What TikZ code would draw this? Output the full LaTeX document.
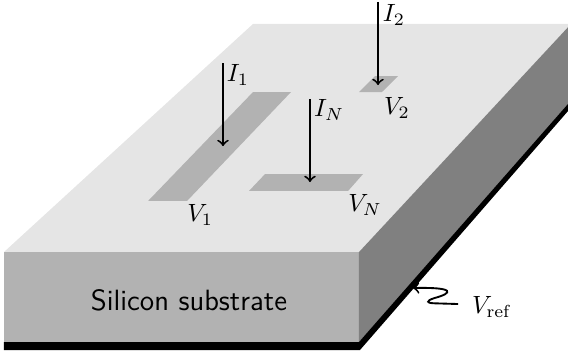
\documentclass[tikz,border=0pt]{standalone}
\usetikzlibrary{positioning}
\usetikzlibrary{calc}

\tikzset{
    top face/.style={fill=black!10},
    front face/.style={fill=black!30},
    side face/.style={fill=black!50},
    contact/.style={fill=black!30},
    current/.style={->, line width=0.75pt},
}

\begin{document}
\begin{tikzpicture}

% Substrate block

\path [clip] (0,0) rectangle (80mm,49.58mm);

\fill [top face] (0.56mm,14.08mm) -- (50.56mm,14.08mm) -- (80.42mm,46.2mm)
    -- (35.63mm,46.2mm) -- cycle;
\fill [front face] (0.56mm,1.41mm) rectangle (50.56mm,14.08mm);
\fill [side face] (50.56mm,1.41mm) -- (50.56mm,14.08mm) -- (80.42mm,46.2mm)
    -- (80.42mm,34.5mm) -- cycle;
\fill (0.56mm,0.28mm) -- (0.56mm,1.41mm) -- (50.56mm,1.41mm) -- (80mm,34.93mm)
    -- (80mm,33.94mm) -- (50.7mm,0.28mm) -- cycle;

\node (substrate) at (26.62mm,7.32mm) {\fontsize{11.75}{14}\selectfont\sffamily Silicon substrate};

% Contacts

\fill [contact] (20.85mm,21.27mm) -- (26.34mm,21.27mm) -- (40.99mm,36.62mm)
    -- (35.64mm,36.62mm) -- cycle;
\fill [contact] (35.07mm,22.68mm) -- (49.02mm,22.68mm) -- (51.13mm,25.07mm)
    -- (37.33mm,25.07mm) -- cycle;
\fill [contact] (50.57mm,36.62mm) -- (53.8mm,36.62mm) -- (56.06mm,38.87mm)
    -- (52.82mm,38.87mm) -- cycle;

\node (v1) at (28.2mm,19.3mm) {$V_1$};
\node (vn) at (51.41mm,20.7mm) {$V_N$};
\node (v2) at (55.92mm,34.37mm) {$V_2$};

% Currents

\coordinate (i1 top) at (31.41mm,40.7mm);
\coordinate (i1 tip) at (31.41mm,29mm);
\coordinate (in top) at (43.66mm,35.63mm);
\coordinate (in tip) at (43.66mm,23.94mm);
\coordinate (i2 top) at (53.24mm,49.3mm);
\coordinate (i2 tip) at (53.24mm,37.6mm);

\draw [current] (i1 top) -- (i1 tip);
\draw [current] (in top) -- (in tip);
\draw [current] (i2 top) -- (i2 tip);

\node (i1) at (33.52mm,39.02mm) {$I_1$};
\node (in) at (46.34mm,34.09mm) {$I_N$};
\node (i2) at (55.5mm,47.45mm) {$I_2$};

% Reference lead

\node (vref) at (69.3mm,6.34mm) {$V_{\mathrm{ref}}$};
\coordinate (vref tip) at (58.17mm,9.01mm);
\coordinate (vref end) at (64.51mm,6.76mm);

\draw [current] (vref end) -- (61.5mm,6.85mm)
    .. controls (60mm,6.85mm) and (59.9mm,7.2mm) .. (61.2mm,7.6mm)
    .. controls (63.8mm,8.3mm) and (64.2mm,9.15mm) .. (vref tip);

\end{tikzpicture}
\end{document}
